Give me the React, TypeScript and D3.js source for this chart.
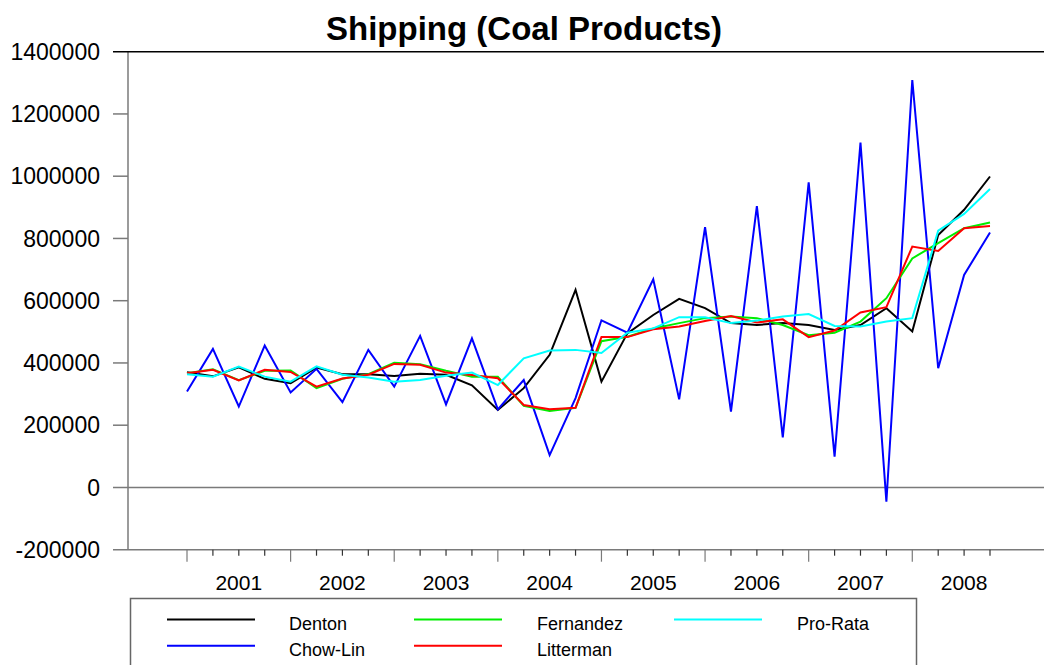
import React from "react";
import * as d3 from "d3";

const title = "Shipping (Coal Products)";
const years = ["2001", "2002", "2003", "2004", "2005", "2006", "2007", "2008"];
const yTicks = [1400000, 1200000, 1000000, 800000, 600000, 400000, 200000, 0, -200000];
const seriesNames = ["Denton", "Chow-Lin", "Fernandez", "Litterman", "Pro-Rata"];
const seriesColors = ["#000000", "#0000ff", "#00ee00", "#ff0000", "#00ffff"];

const denton = [0.370, 0.357, 0.386, 0.349, 0.335, 0.385, 0.364, 0.364, 0.358, 0.365, 0.362, 0.328, 0.249, 0.319, 0.426, 0.635, 0.340, 0.495, 0.554, 0.606, 0.576, 0.528, 0.522, 0.528, 0.522, 0.506, 0.522, 0.576, 0.501, 0.811, 0.892, 0.999];
const chowLin = [0.308, 0.445, 0.260, 0.456, 0.305, 0.381, 0.274, 0.442, 0.324, 0.487, 0.267, 0.479, 0.251, 0.345, 0.104, 0.287, 0.537, 0.497, 0.669, 0.283, 0.836, 0.244, 0.904, 0.161, 0.980, 0.099, 1.108, -0.046, 1.309, 0.383, 0.683, 0.819];
const fernandez = [0.367, 0.380, 0.345, 0.375, 0.376, 0.319, 0.349, 0.364, 0.401, 0.396, 0.375, 0.356, 0.356, 0.262, 0.246, 0.256, 0.470, 0.484, 0.511, 0.528, 0.544, 0.549, 0.544, 0.522, 0.489, 0.497, 0.533, 0.608, 0.736, 0.785, 0.833, 0.851];
const litterman = [0.367, 0.378, 0.344, 0.378, 0.371, 0.324, 0.350, 0.362, 0.397, 0.394, 0.369, 0.361, 0.351, 0.265, 0.251, 0.256, 0.483, 0.483, 0.508, 0.517, 0.535, 0.551, 0.530, 0.540, 0.483, 0.504, 0.562, 0.579, 0.774, 0.760, 0.833, 0.840];
const proRata = [0.364, 0.356, 0.388, 0.356, 0.340, 0.389, 0.362, 0.353, 0.340, 0.345, 0.359, 0.369, 0.329, 0.415, 0.440, 0.442, 0.432, 0.497, 0.511, 0.547, 0.547, 0.528, 0.536, 0.549, 0.557, 0.519, 0.517, 0.533, 0.544, 0.825, 0.879, 0.959];

const seriesData = [denton, chowLin, fernandez, litterman, proRata];

const W = 1044;
const H = 665;
const font = "'Liberation Sans', Arial, sans-serif";

export default function App() {
  const nQ = denton.length;
  const x = d3.scaleLinear().domain([0, nQ - 1]).range([187, 990]);
  const y = d3.scaleLinear().domain([-200000, 1400000]).range([549.7, 51.7]);
  const line = d3
    .line<number>()
    .x((_, i) => x(i))
    .y((v) => y(v * 1e6));
  const axisGrey = "#7a7a7a";
  const qIdx = d3.range(nQ);

  return (
    <svg width={W} height={H} style={{ position: "absolute", left: 0, top: 0 }} fontFamily={font}>
      <rect x={0} y={0} width={W} height={H} fill="#fff" />
      <text x={524} y={40} textAnchor="middle" fontSize={33} fontWeight="bold">
        {title}
      </text>
      {/* y axis */}
      <line x1={128} x2={128} y1={y(1400000)} y2={y(-200000)} stroke={axisGrey} strokeWidth={1.5} />
      {yTicks.map((t) => (
        <g key={t}>
          <line
            x1={113}
            x2={t === 1400000 || t === 0 || t === -200000 ? W : 128}
            y1={y(t)}
            y2={y(t)}
            stroke={t === 1400000 ? "#000" : axisGrey}
            strokeWidth={1.5}
          />
          <text x={100} y={y(t)} dy="0.36em" textAnchor="end" fontSize={23}>
            {t}
          </text>
        </g>
      ))}
      {/* x ticks */}
      {qIdx.map((i) => (
        <line
          key={i}
          x1={x(i)}
          x2={x(i)}
          y1={y(-200000)}
          y2={y(-200000) + (i % 4 === 0 ? 12 : 6)}
          stroke={i % 4 === 0 ? axisGrey : "#333"}
          strokeWidth={1.2}
        />
      ))}
      {years.map((yr, k) => (
        <text key={yr} x={(x(k * 4) + x(k * 4 + 4)) / 2} y={582} dy="0.36em" textAnchor="middle" fontSize={21}>
          {yr}
        </text>
      ))}
      {/* series */}
      {seriesData.map((d, s) => (
        <path key={seriesNames[s]} d={line(d) || ""} fill="none" stroke={seriesColors[s]} strokeWidth={2} strokeLinejoin="miter" />
      ))}
      {/* legend */}
      <rect x={130.5} y={598.5} width={786} height={100} fill="#fff" stroke="#666" strokeWidth={1.5} />
      {seriesNames.map((name, s) => {
        const col = Math.floor(s / 2);
        const row = s % 2;
        const lx = [167, 414, 674][col];
        const tx = [289, 537, 797][col];
        const ly = [619.5, 645.7][row];
        return (
          <g key={name}>
            <line x1={lx} x2={lx + 88} y1={ly} y2={ly} stroke={seriesColors[s]} strokeWidth={2} />
            <text x={tx} y={ly + 4} dy="0.36em" fontSize={18}>
              {name}
            </text>
          </g>
        );
      })}
    </svg>
  );
}
